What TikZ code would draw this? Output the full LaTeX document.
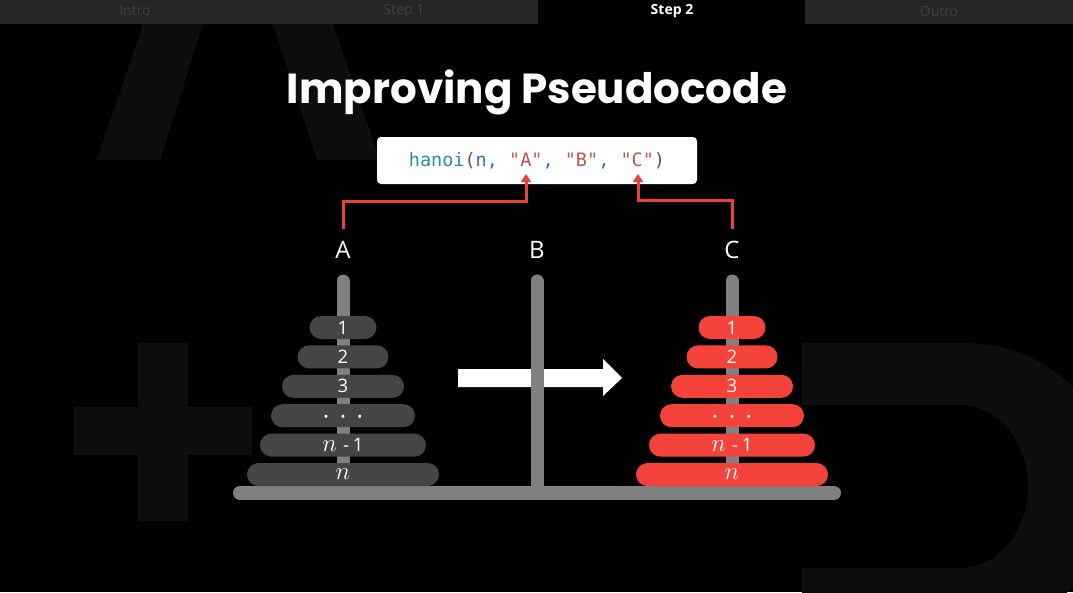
\documentclass[tikz,border=0pt]{standalone}
\usepackage{fontspec}
\setmainfont{Open Sans}
\newfontfamily\titlefont{Poppins}
\newfontfamily\codefont{DejaVu Sans Mono}
\usetikzlibrary{arrows.meta}

\definecolor{tabbar}{HTML}{262626}
\definecolor{tabdim}{HTML}{404040}
\definecolor{ghost}{HTML}{0E0E0E}
\definecolor{diskgray}{HTML}{454545}
\definecolor{diskred}{HTML}{F4433A}
\definecolor{peggray}{HTML}{808080}
\definecolor{linkred}{HTML}{E8423A}
\definecolor{cfun}{HTML}{2E8C9C}
\definecolor{cvar}{HTML}{3A6CC4}
\definecolor{cstr}{HTML}{C4534D}
\definecolor{cpunc}{HTML}{555555}

\newcommand{\mathn}{{\fontsize{25}{25}\selectfont$n$}}
\newcommand{\nminusone}{\mathn\hspace{6pt}-\hspace{4pt}1}
\newcommand{\threedots}{\raisebox{-6.2pt}[0pt][0pt]{\fontsize{13}{13}\selectfont •\hspace{12pt}•\hspace{12pt}•}}

\tikzset{
  tabtext/.style={text=tabdim, font=\fontsize{14}{14}\selectfont},
  disk/.style={rectangle, rounded corners=11.5pt, minimum height=23pt,
    inner sep=0pt, text=white, font=\fontsize{18.5}{18.5}\selectfont},
  gdisk/.style={disk, fill=diskgray},
  rdisk/.style={disk, fill=diskred},
  peg/.style={draw=peggray, line width=13pt, line cap=round},
  pegname/.style={text=white, font=\fontsize{24}{24}\selectfont, inner sep=0pt},
  link/.style={draw=linkred, line width=3pt, -{Triangle[length=8pt,width=10pt]}},
}

\begin{document}
\begin{tikzpicture}[x=1pt,y=-1pt]
\useasboundingbox (0,0) rectangle (1073,592);
\fill[black] (0,0) rectangle (1073,592);

% faint backdrop letters
\fill[ghost] (97,160) -- (143,24) -- (203,24) -- (160,160) -- cycle;
\fill[ghost] (273,24) -- (333,24) -- (380,160) -- (317,160) -- cycle;
\fill[ghost] (138,343) rectangle (188,521);
\fill[ghost] (74,407) rectangle (252,455);
\fill[ghost, even odd rule]
  (802,343) -- (965,343) arc[start angle=-90, end angle=90, x radius=150, y radius=144]
  -- (802,631) -- cycle
  (802,405) -- (960,405) arc[start angle=-90, end angle=90, x radius=68, y radius=81.5]
  -- (802,568) -- cycle;

% tab bar
\fill[tabbar] (0,0) rectangle (538,24);
\fill[tabbar] (805,0) rectangle (1073,24);
\node[tabtext] (tIntro) at (135,11) {Intro};
\node[tabtext] (tStep1) at (404,11) {Step 1};
\node[text=white, font=\bfseries\fontsize{14}{14}\selectfont] (tStep2) at (672,11) {Step 2};
\node[tabtext] (tOutro) at (939,11) {Outro};

% heading
\node[text=white, font=\titlefont\bfseries\fontsize{42}{42}\selectfont] (title) at (537,92) {Improving Pseudocode};

% call signature
\node[fill=white, rounded corners=4pt, minimum width=320pt, minimum height=47pt, inner sep=0pt,
      font=\codefont\fontsize{18.5}{18.5}\selectfont] (code) at (537,160.5)
  {\textcolor{cfun}{hanoi}\textcolor{cpunc}{(}\textcolor{cvar}{n,} \textcolor{cstr}{"A"}\textcolor{cvar}{,} \textcolor{cstr}{"B"}\textcolor{cvar}{,} \textcolor{cstr}{"C"}\textcolor{cpunc}{)}};
\coordinate (argA) at (526,174);
\coordinate (argC) at (638,174);

% rod names
\node[pegname] (labA) at (343,250) {A};
\node[pegname] (labB) at (537,250) {B};
\node[pegname] (labC) at (732,250) {C};

\draw[link] (labA.north) ++(0,-12) -- ++(0,-28) -| (argA);
\draw[link] (labC.north) ++(0,-12) -- ++(0,-28) -| (argC);

% move arrow
\fill[white] (458,369) -- (603,369) -- (603,359) -- (622,378) -- (603,396)
  -- (603,387) -- (458,387) -- cycle;

% rods and base
\draw[peg] (343,281) -- (343,493);
\draw[peg] (537,281) -- (537,493);
\draw[peg] (732,281) -- (732,493);
\draw[draw=peggray, line width=14pt, line cap=round] (240,493) -- (834,493);

% disks on rod A
\node[gdisk, minimum width=67pt]  (a1) at (343,327.5) {1};
\node[gdisk, minimum width=91pt]  (a2) at (343,356.9) {2};
\node[gdisk, minimum width=122pt] (a3) at (343,386.3) {3};
\node[gdisk, minimum width=144pt] (a4) at (343,415.7) {\threedots};
\node[gdisk, minimum width=166pt] (a5) at (343,445.1) {\nminusone};
\node[gdisk, minimum width=192pt] (a6) at (343,474.5) {\mathn};

% disks on rod C
\node[rdisk, minimum width=67pt]  (c1) at (732,327.5) {1};
\node[rdisk, minimum width=91pt]  (c2) at (732,356.9) {2};
\node[rdisk, minimum width=122pt] (c3) at (732,386.3) {3};
\node[rdisk, minimum width=144pt] (c4) at (732,415.7) {\threedots};
\node[rdisk, minimum width=166pt] (c5) at (732,445.1) {\nminusone};
\node[rdisk, minimum width=192pt] (c6) at (732,474.5) {\mathn};
\end{tikzpicture}
\end{document}
